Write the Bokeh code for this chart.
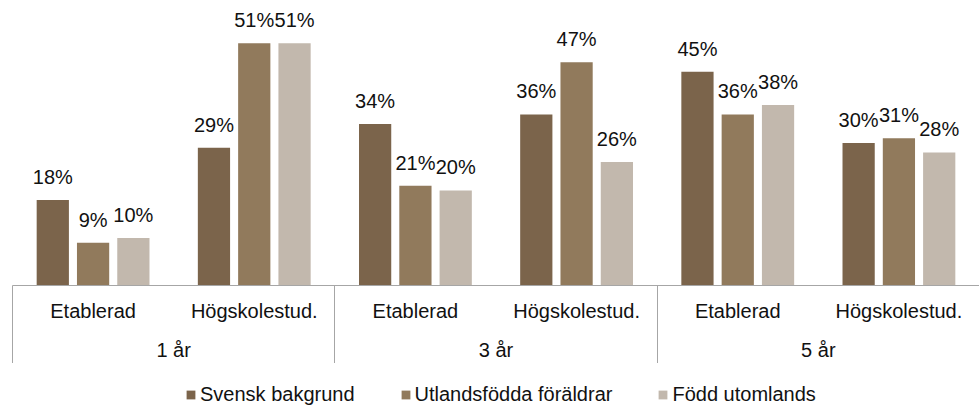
from bokeh.plotting import figure
from bokeh.layouts import column
from bokeh.models import (ColumnDataSource, FactorRange, Legend, LegendItem,
                          LinearAxis, FixedTicker, Range1d)
from bokeh.transform import dodge
from bokeh.core.properties import value
from bokeh.embed import file_html
from bokeh.resources import INLINE

# ---- data ----
groups = ["1 år", "3 år", "5 år"]
subgroups = ["Etablerad", "Högskolestud."]
series_names = ["Svensk bakgrund", "Utlandsfödda föräldrar", "Född utomlands"]
svensk = [18, 29, 34, 36, 45, 30]
utlandsfodda = [9, 51, 21, 47, 36, 31]
fodd_utomlands = [10, 51, 20, 26, 38, 28]
colors = ["#7b644b", "#917a5c", "#c2b8ad"]

FONT = "Liberation Sans"
factors = [(g, s) for g in groups for s in subgroups]
series = [svensk, utlandsfodda, fodd_utomlands]

data = {"x": factors}
for i, vals in enumerate(series):
    data[f"v{i}"] = vals
    data[f"l{i}"] = [f"{v}%" for v in vals]
source = ColumnDataSource(data)

x_range = FactorRange(*factors, range_padding=0, group_padding=0,
                      factor_padding=0, subgroup_padding=0)

p = figure(x_range=x_range, y_range=Range1d(0, 58.3),
           frame_width=967, frame_height=277,
           output_backend="svg", toolbar_location=None,
           min_border_left=12, min_border_right=0, min_border_top=8,
           min_border_bottom=0)
p.outline_line_color = None
p.xgrid.grid_line_color = None
p.ygrid.grid_line_color = None
p.yaxis.visible = False

offsets = [-0.25, 0.0, 0.25]
for i, col in enumerate(colors):
    p.vbar(x=dodge("x", offsets[i], range=p.x_range), top=f"v{i}",
           width=0.2, source=source, fill_color=col, line_color=None)
    p.text(x=dodge("x", offsets[i], range=p.x_range), y=f"v{i}", text=f"l{i}",
           source=source, text_align="center", text_baseline="alphabetic",
           y_offset=-23, text_font=value(FONT), text_font_size="20px",
           text_color="#111111")

ax = p.xaxis[0]
ax.axis_line_color = "#a6a6a6"
ax.axis_line_width = 1
ax.major_tick_line_color = None
ax.major_tick_out = 0
ax.major_tick_in = 0
ax.minor_tick_line_color = None
ax.separator_line_color = None
ax.major_label_standoff = 14
ax.major_label_text_font = FONT
ax.major_label_text_font_size = "20px"
ax.major_label_text_color = "#111111"
ax.group_text_font = FONT
ax.group_text_font_size = "20px"
ax.group_text_font_style = "normal"
ax.group_text_color = "#111111"
ax.subgroup_text_font = FONT
ax.subgroup_text_font_size = "20px"
ax.subgroup_text_font_style = "normal"
ax.subgroup_text_color = "#111111"

# group separator lines (at group boundaries) drawn as long inward ticks
boundaries = [i * len(subgroups) for i in range(len(groups) + 1)]
sep = LinearAxis(ticker=FixedTicker(ticks=boundaries, minor_ticks=[]),
                 axis_line_color=None, major_tick_in=78, major_tick_out=0,
                 major_tick_line_color="#a6a6a6", minor_tick_line_color=None,
                 major_label_text_font_size="1px", major_label_text_color=None,
                 major_label_standoff=0)
p.add_layout(sep, "below")

# legend in its own strip under the chart (same series, renderers hidden)
lf = figure(width=979, height=43, x_range=p.x_range, y_range=Range1d(-2, -1),
            output_backend="svg", toolbar_location=None,
            min_border_left=0, min_border_right=0, min_border_top=0,
            min_border_bottom=0)
lf.outline_line_color = None
lf.axis.visible = False
lf.grid.visible = False
items = []
for i, (name, col) in enumerate(zip(series_names, colors)):
    r = lf.vbar(x="x", top=f"v{i}", width=0.2, source=source, fill_color=col,
                line_color=None, visible=False)
    items.append(LegendItem(label=name, renderers=[r]))
legend = Legend(items=items, orientation="horizontal", location=(173, 0),
                border_line_color=None, background_fill_alpha=0,
                inactive_fill_alpha=0,
                glyph_width=11, glyph_height=11, label_standoff=4, spacing=45,
                padding=0, margin=0, label_text_font=FONT,
                label_text_font_size="20px", label_text_color="#111111")
lf.add_layout(legend)

layout = column(p, lf, spacing=0)
open("out.html", "w").write(file_html(layout, INLINE))
